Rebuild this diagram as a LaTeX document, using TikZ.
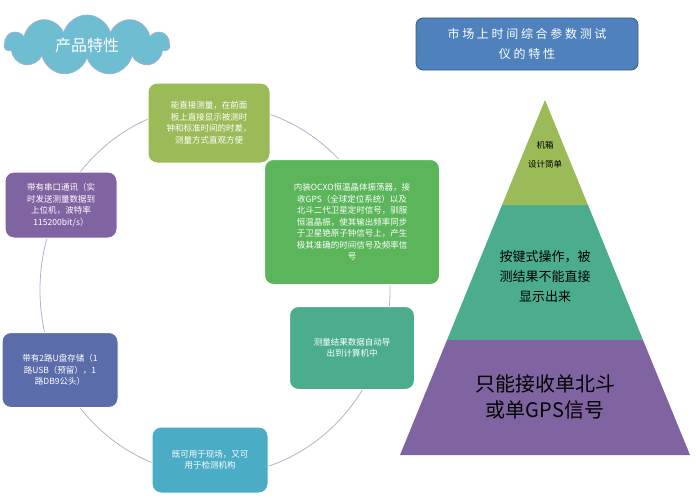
\documentclass[tikz,border=0pt]{standalone}
\usepackage{fontspec}
\setmainfont{Noto Sans CJK SC}
\usetikzlibrary{shapes.symbols}
\definecolor{olivebox}{HTML}{9BBB59}
\definecolor{greenbox}{HTML}{5BB55B}
\definecolor{purplebox}{HTML}{8064A2}
\definecolor{tealbox}{HTML}{4BAD8E}
\definecolor{bluepbox}{HTML}{5B6CAA}
\definecolor{cyanbox}{HTML}{4BACC6}
\definecolor{titleblue}{HTML}{4F81BD}
\definecolor{ringline}{HTML}{B4B0D0}
\tikzset{
  feat/.style={rounded corners=9pt, draw=white, line width=1pt, text=white,
    align=center, font=\fontsize{8.5}{11.5}\selectfont, inner sep=3pt},
}
\begin{document}
\begin{tikzpicture}[x=1pt,y=-1pt]
\useasboundingbox (0,0) rectangle (700,503);
% ring behind the boxes
\draw[ringline, thick] (215,290) ellipse [x radius=175, y radius=185];

\node (cloud)[cloud, cloud puffs=11, aspect=3, fill=cyanbox!80, draw=titleblue!60, thick,
  text=white, font=\fontsize{16}{18}\selectfont, minimum width=165, minimum height=60] at (87,45) {产品特性};
\node (title)[rounded corners=7pt, fill=titleblue, draw=titleblue!70!black, thick, text=white,
  minimum width=222, minimum height=52, align=center, font=\fontsize{12}{20}\selectfont] at (527,44)
  {市 场 上 时 间 综 合 参 数 测 试\\仪 的 特 性};

\node (b1)[feat, fill=olivebox, minimum width=122, minimum height=80] at (209,123)
  {能直接测量，在前面\\板上直接显示被测时\\钟和标准时间的时差，\\测量方式直观方便};
\node (b2)[feat, fill=greenbox, minimum width=175, minimum height=125] at (352,222)
  {内装OCXO恒温晶体振荡器，接\\收GPS（全球定位系统）以及\\北斗二代卫星定时信号，驯服\\恒温晶振，使其输出频率同步\\于卫星铯原子钟信号上，产生\\极其准确的时间信号及频率信\\号};
\node (b3)[feat, fill=purplebox, minimum width=112, minimum height=66] at (61,205)
  {带有串口通讯（实\\时发送测量数据到\\上位机，波特率\\115200bit/s）};
\node (b4)[feat, fill=tealbox, minimum width=125, minimum height=83] at (352,348)
  {测量结果数据自动导\\出到计算机中};
\node (b5)[feat, fill=bluepbox, minimum width=116, minimum height=75] at (60,370)
  {带有2路U盘存储（1\\路USB（预留），1\\路DB9公头）};
\node (b6)[feat, fill=cyanbox, minimum width=116, minimum height=66] at (210,460)
  {既可用于现场，又可\\用于检测机构};

% pyramid
\coordinate (apex) at (545,100);
\fill[olivebox] (apex) -- (588,205) -- (502,205) -- cycle;
\fill[tealbox] (502,205) -- (588,205) -- (643,340) -- (447,340) -- cycle;
\fill[purplebox] (447,340) -- (643,340) -- (690,455) -- (400,455) -- cycle;
\node (p1)[align=center, font=\fontsize{8.5}{19}\selectfont] at (545,155) {机箱\\设计简单};
\node (p2)[align=center, font=\fontsize{13}{20}\selectfont] at (545,277) {按键式操作，被\\测结果不能直接\\显示出来};
\node (p3)[align=center, font=\fontsize{20}{26}\selectfont] at (545,397) {只能接收单北斗\\或单GPS信号};
\end{tikzpicture}
\end{document}
